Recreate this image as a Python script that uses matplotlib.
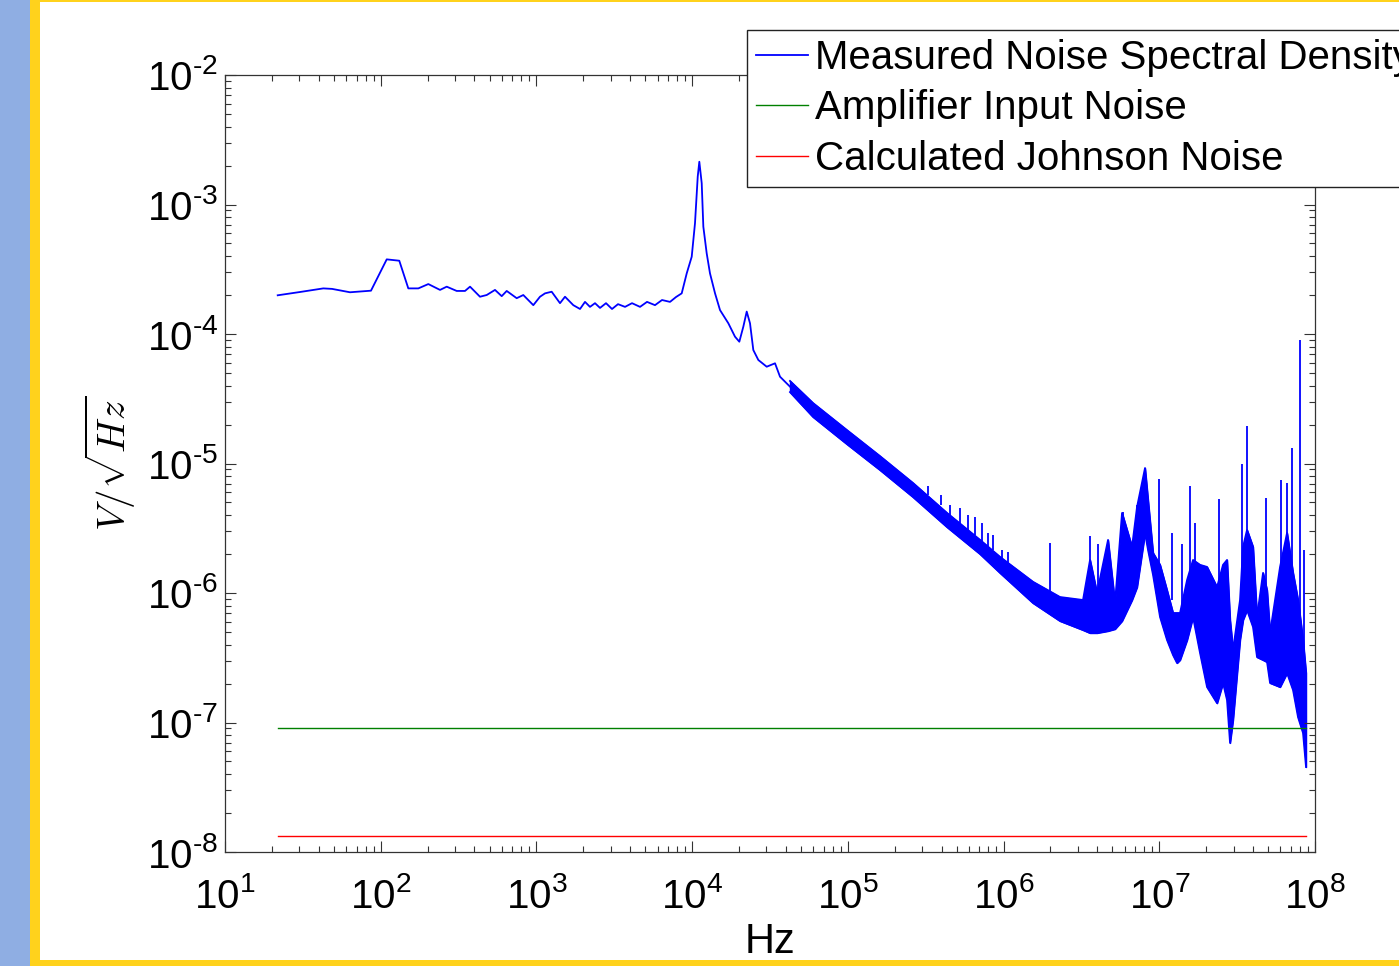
import numpy as np
import matplotlib
matplotlib.use("Agg")
import matplotlib.pyplot as plt
from matplotlib.patches import Rectangle
from matplotlib.ticker import LogLocator, NullFormatter, FixedLocator

plt.rcParams['font.family'] = ['Liberation Sans', 'DejaVu Sans']
plt.rcParams['mathtext.fontset'] = 'cm'
plt.rcParams['mathtext.default'] = 'it'

# ---------------- data ----------------
# low-frequency part of measured spectrum (single trace)
f_line = [21.8, 30.3, 42.8, 48.7, 63.5, 86.6, 109.3, 131.6, 150.4, 174.4, 202.2, 240.4,
          265.4, 307.6, 347.8, 374.6, 434.1, 479.4, 542.0, 598.4, 644.4, 747, 823.5, 955,
          1054, 1135.5, 1253, 1417, 1526, 1725, 1905, 2051, 2208, 2378, 2561, 2798, 3058,
          3342, 3707, 4110, 4627, 5131, 5774, 6405, 7210, 7880, 8570, 9230, 9937, 10430,
          10860, 11120, 11520, 11800, 12400, 13020, 14030, 15100, 17080, 18850, 20090,
          21320, 22410, 23530, 24710, 26610, 30120, 34060, 36670, 42510]
v_line = [1.99e-4, 2.11e-4, 2.25e-4, 2.23e-4, 2.10e-4, 2.16e-4, 3.77e-4, 3.68e-4, 2.25e-4,
          2.25e-4, 2.43e-4, 2.19e-4, 2.32e-4, 2.15e-4, 2.15e-4, 2.32e-4, 1.94e-4, 2.00e-4,
          2.19e-4, 1.96e-4, 2.15e-4, 1.89e-4, 2.00e-4, 1.67e-4, 1.94e-4, 2.06e-4, 2.12e-4,
          1.73e-4, 1.94e-4, 1.67e-4, 1.56e-4, 1.77e-4, 1.62e-4, 1.73e-4, 1.59e-4, 1.73e-4,
          1.56e-4, 1.70e-4, 1.62e-4, 1.73e-4, 1.62e-4, 1.77e-4, 1.67e-4, 1.83e-4, 1.77e-4,
          1.93e-4, 2.06e-4, 2.94e-4, 3.95e-4, 7.16e-4, 1.64e-3, 2.14e-3, 1.46e-3, 6.74e-4,
          4.20e-4, 2.94e-4, 2.06e-4, 1.53e-4, 1.21e-4, 9.53e-5, 8.72e-5, 1.14e-4, 1.49e-4,
          1.21e-4, 7.52e-5, 6.30e-5, 5.59e-5, 5.94e-5, 4.68e-5, 3.92e-5]

# high-frequency part: dense noise band (upper / lower envelope)
f_band = [42500, 59750, 98770, 160900, 262100, 433300, 706200, 948900, 1.546e6, 2.304e6,
          3.237e6, 3.591e6, 3.982e6, 4.686e6, 5.196e6, 5.764e6, 6.682e6, 7.194e6, 8.098e6,
          8.466e6, 9.117e6, 1.011e7, 1.121e7, 1.225e7, 1.300e7, 1.359e7, 1.508e7, 1.647e7,
          1.827e7, 2.026e7, 2.349e7, 2.566e7, 2.723e7, 2.847e7, 2.976e7, 3.300e7, 3.450e7,
          3.660e7, 3.999e7, 4.243e7, 4.638e7, 4.920e7, 5.144e7, 5.964e7, 6.613e7, 7.227e7,
          7.780e7, 8.377e7, 8.757e7]
v_band_hi = [4.34e-5, 2.93e-5, 1.81e-5, 1.14e-5, 7.07e-6, 4.15e-6, 2.57e-6, 1.90e-6, 1.22e-6,
             9.31e-7, 8.83e-7, 1.80e-6, 1.00e-6, 2.57e-6, 8.37e-7, 4.15e-6, 2.27e-6, 4.61e-6,
             9.23e-6, 5.23e-6, 2.04e-6, 1.65e-6, 1.05e-6, 7.01e-7, 7.01e-7, 7.01e-7, 1.26e-6,
             1.80e-6, 1.65e-6, 1.59e-6, 1.11e-6, 1.65e-6, 1.80e-6, 6.19e-7, 3.63e-7, 8.83e-7,
             2.27e-6, 3.07e-6, 2.27e-6, 6.53e-7, 1.43e-6, 1.05e-6, 4.91e-7, 1.59e-6, 2.91e-6,
             1.43e-6, 8.83e-7, 4.34e-7, 2.41e-7]
v_band_lo = [3.56e-5, 2.29e-5, 1.41e-5, 8.91e-6, 5.51e-6, 3.23e-6, 2.00e-6, 1.43e-6, 8.37e-7,
             6.08e-7, 5.18e-7, 4.91e-7, 4.91e-7, 5.09e-7, 5.27e-7, 6.08e-7, 8.83e-7, 1.11e-6,
             2.91e-6, 2.15e-6, 1.38e-6, 6.53e-7, 4.34e-7, 3.32e-7, 2.88e-7, 3.04e-7, 4.34e-7,
             6.53e-7, 3.44e-7, 1.88e-7, 1.41e-7, 2.02e-7, 1.49e-7, 6.95e-8, 1.05e-7, 4.34e-7,
             6.19e-7, 7.39e-7, 5.46e-7, 3.20e-7, 3.04e-7, 2.93e-7, 2.02e-7, 1.88e-7, 2.41e-7,
             1.78e-7, 1.10e-7, 8.30e-8, 4.53e-8]

# narrow spurious spikes (frequency, top, base)
f_spike = [327200, 396600, 453000, 525300, 591100, 655600, 727300, 794500, 855600, 977200,
           1.068e6, 1.988e6, 3.591e6, 4.041e6, 5.850e6, 7.194e6, 8.098e6, 9.961e6, 1.207e7,
           1.400e7, 1.576e7, 1.696e7, 2.419e7, 3.399e7, 3.660e7, 4.849e7, 6.053e7, 6.613e7,
           7.121e7, 8.013e7, 8.502e7]
v_spike_top = [6.71e-6, 5.71e-6, 4.78e-6, 4.53e-6, 4.00e-6, 3.86e-6, 3.47e-6, 2.91e-6, 2.80e-6,
               2.15e-6, 2.07e-6, 2.43e-6, 2.76e-6, 2.39e-6, 4.22e-6, 4.78e-6, 9.23e-6, 7.59e-6,
               2.91e-6, 2.39e-6, 6.71e-6, 3.47e-6, 5.32e-6, 9.91e-6, 1.95e-5, 5.41e-6, 7.46e-6,
               7.07e-6, 1.32e-5, 8.99e-5, 2.15e-6]
v_spike_base = [5.71e-6, 4.78e-6, 4.00e-6, 3.35e-6, 3.07e-6, 2.80e-6, 2.43e-6, 2.23e-6, 2.15e-6,
                1.80e-6, 1.65e-6, 8.83e-7, 8.83e-7, 8.83e-7, 1.80e-6, 1.80e-6, 3.66e-6, 1.26e-6,
                8.83e-7, 7.39e-7, 8.83e-7, 8.83e-7, 8.83e-7, 8.83e-7, 1.80e-6, 8.83e-7, 8.83e-7,
                8.83e-7, 8.83e-7, 3.63e-7, 3.63e-7]

# reference levels
f_ref = [21.8, 8.757e7]
amp_noise = [9.07e-8, 9.07e-8]
johnson_noise = [1.33e-8, 1.33e-8]

labels = ['Measured Noise Spectral Density', 'Amplifier Input Noise',
          'Calculated Johnson Noise']
x_ticks = [1e1, 1e2, 1e3, 1e4, 1e5, 1e6, 1e7, 1e8]
x_exponents = ['1', '2', '3', '4', '5', '6', '7', '8']
y_ticks = [1e-8, 1e-7, 1e-6, 1e-5, 1e-4, 1e-3, 1e-2]
y_exponents = ['\u20108', '\u20107', '\u20106', '\u20105', '\u20104', '\u20103', '\u20102']

# ---------------- figure ----------------
W, H = 1399, 966
fig = plt.figure(figsize=(W / 100, H / 100), dpi=100)
fig.patch.set_facecolor('white')

# decorative frame (blue strip + yellow border)
fig.patches.append(Rectangle((0, 0), 30 / W, 1, transform=fig.transFigure,
                             facecolor='#8FAEE3', edgecolor='none', zorder=0))
fig.patches.append(Rectangle((30 / W, 0), 10 / W, 1, transform=fig.transFigure,
                             facecolor='#FFD21C', edgecolor='none', zorder=0))
fig.patches.append(Rectangle((30 / W, 1 - 2 / H), 1, 2 / H, transform=fig.transFigure,
                             facecolor='#FFD21C', edgecolor='none', zorder=0))
fig.patches.append(Rectangle((30 / W, 0), 1, 6 / H, transform=fig.transFigure,
                             facecolor='#FFD21C', edgecolor='none', zorder=0))

ax = fig.add_axes([225 / W, 1 - 852 / H, (1315 - 225) / W, (852 - 75) / H])
ax.set_xscale('log')
ax.set_yscale('log')

blue = '#0000FF'
l1, = ax.plot(f_line, v_line, color=blue, lw=1.3, label=labels[0])
ax.fill_between(f_band, v_band_lo, v_band_hi, color=blue, lw=1.0, edgecolor=blue)
ax.plot(f_band, v_band_hi, color=blue, lw=1.3)
ax.plot(f_band, v_band_lo, color=blue, lw=1.3)
ax.vlines(f_spike, v_spike_base, v_spike_top, color=blue, lw=1.3)
l2, = ax.plot(f_ref, amp_noise, color='#008000', lw=1.0, label=labels[1])
l3, = ax.plot(f_ref, johnson_noise, color='#FF0000', lw=1.0, label=labels[2])

ax.set_xlim(1e1, 1e8)
ax.set_ylim(1e-8, 1e-2)

ax.xaxis.set_major_locator(FixedLocator(x_ticks))
ax.set_xticklabels([r'$\mathregular{10^{%s}}$' % e for e in x_exponents])
ax.yaxis.set_major_locator(FixedLocator(y_ticks))
ax.set_yticklabels([r'$\mathregular{10^{%s}}$' % e for e in y_exponents])
for a in (ax.xaxis, ax.yaxis):
    a.set_minor_locator(LogLocator(base=10, subs=np.arange(2, 10), numticks=100))
    a.set_minor_formatter(NullFormatter())

ax.tick_params(which='both', direction='in', top=True, right=True, colors='#333333',
               labelcolor='black', labelsize=29, width=0.8)
ax.tick_params(which='major', length=8)
ax.tick_params(which='minor', length=4)
ax.tick_params(axis='x', pad=18)
ax.tick_params(axis='y', pad=5)
for s in ax.spines.values():
    s.set_color('#333333')
    s.set_linewidth(0.9)

ax.set_xlabel('Hz', fontsize=30, labelpad=4)
ax.set_ylabel(r'V/\sqrt{Hz}'.join(['$', '$']), fontsize=28, labelpad=6)

leg = fig.legend(handles=[l1, l2, l3], labels=labels, loc='upper left',
                 bbox_to_anchor=(747 / W, 1 - 30 / H), bbox_transform=fig.transFigure,
                 borderaxespad=0, fontsize=29, frameon=True, fancybox=False,
                 framealpha=1, edgecolor='#222222', handlelength=1.3,
                 handletextpad=0.18, borderpad=0.22, labelspacing=0.31)
leg.get_frame().set_linewidth(1.0)

fig.savefig('out.png', dpi=100)
